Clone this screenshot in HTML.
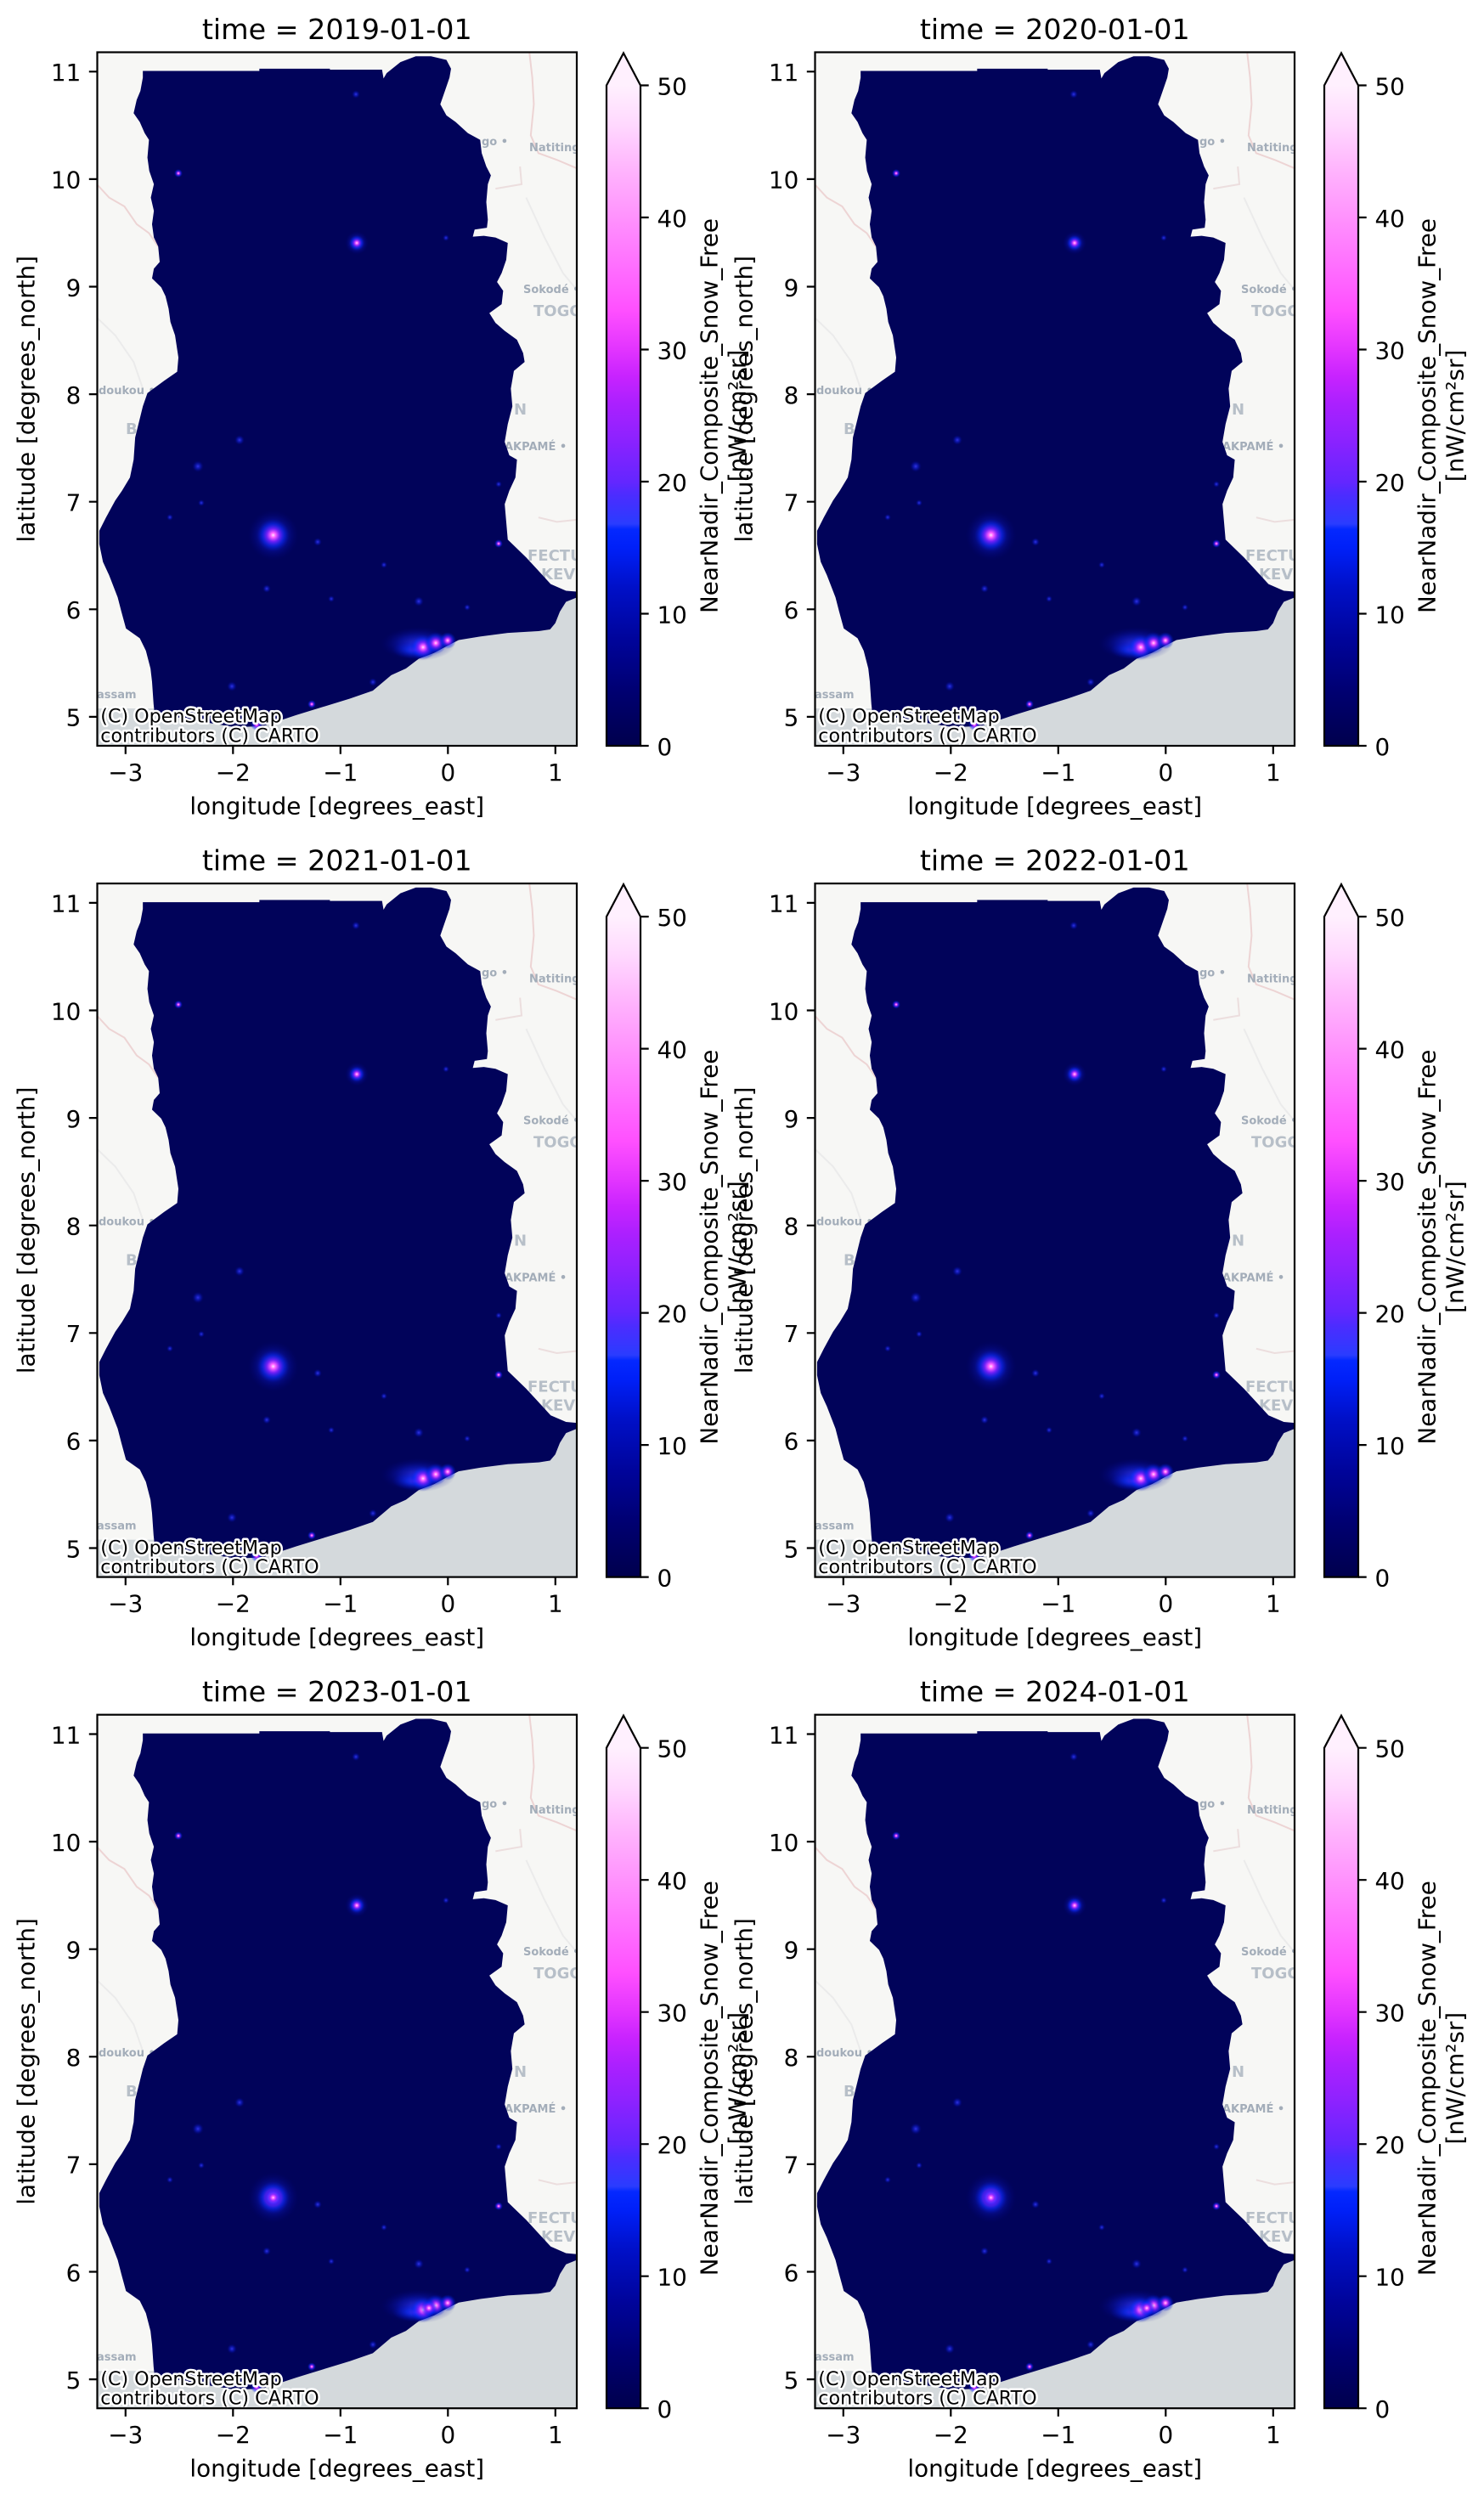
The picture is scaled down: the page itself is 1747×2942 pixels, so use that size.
<!DOCTYPE html>
<html><head><meta charset="utf-8">
<style>
html,body{margin:0;padding:0;background:#fff;width:1747px;height:2942px;overflow:hidden}
svg{position:absolute;left:0;top:0}
text{font-family:"DejaVu Sans","Liberation Sans",sans-serif;fill:#000}
.t{font-size:27.8px}
.yl{text-anchor:end}
.xl{text-anchor:middle}
.ti{font-size:33.3px;text-anchor:middle}
.at{font-size:22.2px;stroke:#fff;stroke-width:5px;paint-order:stroke;stroke-linejoin:round}
.ml{font-size:13px;font-weight:bold;fill:#a3adb9}
.m2{font-size:18px;font-weight:bold;fill:#b7bfc8}
</style></head><body>
<svg width="1747" height="2942" viewBox="0 0 1747 2942" xmlns="http://www.w3.org/2000/svg">
<defs>
<linearGradient id="cmap" x1="0" y1="1" x2="0" y2="0">
<stop offset="0" stop-color="#00004d"/>
<stop offset="0.08" stop-color="#000070"/>
<stop offset="0.16" stop-color="#00049a"/>
<stop offset="0.24" stop-color="#0010c8"/>
<stop offset="0.30" stop-color="#0020f8"/>
<stop offset="0.328" stop-color="#0428ff"/>
<stop offset="0.336" stop-color="#2a3cff"/>
<stop offset="0.38" stop-color="#4c2cff"/>
<stop offset="0.40" stop-color="#6426ff"/>
<stop offset="0.46" stop-color="#8a22ff"/>
<stop offset="0.52" stop-color="#ac20ff"/>
<stop offset="0.56" stop-color="#c823ff"/>
<stop offset="0.60" stop-color="#e234ff"/>
<stop offset="0.66" stop-color="#ff50ff"/>
<stop offset="0.72" stop-color="#ff6cff"/>
<stop offset="0.80" stop-color="#ff92fd"/>
<stop offset="0.88" stop-color="#ffb8fd"/>
<stop offset="0.94" stop-color="#ffd8fe"/>
<stop offset="1" stop-color="#fff0fe"/>
</linearGradient>
<radialGradient id="gp">
<stop offset="0" stop-color="#ffe0ff"/>
<stop offset="0.15" stop-color="#ff60ff"/>
<stop offset="0.4" stop-color="#8020ff" stop-opacity="0.85"/>
<stop offset="0.7" stop-color="#0a2aff" stop-opacity="0.45"/>
<stop offset="1" stop-color="#0010c0" stop-opacity="0"/>
</radialGradient>
<radialGradient id="gb">
<stop offset="0" stop-color="#5030ff" stop-opacity="0.9"/>
<stop offset="0.4" stop-color="#1030ff" stop-opacity="0.6"/>
<stop offset="1" stop-color="#0010c0" stop-opacity="0"/>
</radialGradient>
<radialGradient id="gs">
<stop offset="0" stop-color="#3a3cff" stop-opacity="0.85"/>
<stop offset="0.5" stop-color="#1020e0" stop-opacity="0.45"/>
<stop offset="1" stop-color="#000080" stop-opacity="0"/>
</radialGradient>
<clipPath id="ax"><rect x="114.5" y="61.5" width="564.5" height="816.5"/></clipPath>

<g id="land">
<rect x="114" y="60" width="566" height="820" fill="#f7f7f5"/>
<g transform="translate(114,60) scale(0.36101,0.52301)" fill="none" stroke="#edd4d4" stroke-width="2">
<polyline vector-effect="non-scaling-stroke" points="0,300 40,330 90,350 130,390 170,410 200,440"/>
<polyline vector-effect="non-scaling-stroke" points="1410,0 1420,60 1425,120 1415,190 1440,230 1500,245 1568,265"/>
<polyline vector-effect="non-scaling-stroke" stroke="#ecdede" points="1380,260 1385,300 1300,310"/>
<polyline vector-effect="non-scaling-stroke" stroke="#ecdede" points="1440,1050 1500,1060 1568,1055"/>
<polyline vector-effect="non-scaling-stroke" stroke="#ebebeb" points="0,600 60,640 120,700 150,760"/>
<polyline vector-effect="non-scaling-stroke" stroke="#ebebeb" points="1400,330 1460,420 1520,500 1568,540"/>
</g>
</g>

<g id="gh">
<g transform="translate(114,60) scale(0.36101,0.52301)">
<polygon fill="#d4d9dc" points="1600,1210 1568,1222 1530,1240 1510,1262 1495,1288 1478,1302 1440,1306 1340,1310 1250,1318 1180,1326 1140,1340 1100,1355 1050,1368 1008,1390 960,1405 900,1440 825,1458 730,1478 650,1495 593,1508 540,1520 450,1522 300,1505 188,1480 0,1480 0,1600 1600,1600"/>
<polygon fill="#01035a" points="150,45 530,45 530,40 760,40 760,42 930,42 935,62 945,50 990,25 1040,12 1090,12 1140,20 1155,40 1150,60 1135,90 1120,120 1140,145 1170,160 1210,185 1250,200 1255,230 1270,260 1285,280 1275,300 1270,340 1275,380 1272,398 1232,402 1226,418 1262,416 1300,420 1340,432 1335,470 1320,500 1305,520 1325,540 1320,570 1280,590 1300,612 1330,630 1370,650 1390,680 1395,700 1360,720 1350,760 1355,800 1340,840 1330,880 1345,910 1370,920 1365,960 1345,990 1330,1020 1335,1060 1340,1100 1370,1120 1400,1140 1440,1170 1480,1200 1530,1215 1580,1218 1580,1226 1530,1240 1510,1262 1495,1288 1478,1302 1440,1306 1340,1310 1250,1318 1180,1326 1140,1340 1100,1355 1050,1368 1008,1390 960,1405 900,1440 825,1458 730,1478 650,1495 593,1508 540,1520 450,1522 300,1505 188,1490 185,1470 180,1420 175,1390 160,1350 140,1322 95,1300 80,1262 68,1230 40,1180 20,1150 8,1110 8,1080 30,1050 60,1012 82,990 108,960 120,920 125,870 150,800 165,770 220,742 262,722 266,690 255,640 240,610 234,580 224,552 210,532 180,512 186,490 205,475 200,440 186,420 180,390 186,360 176,330 186,300 171,270 165,240 170,200 156,185 140,160 120,140 130,110 142,90 150,60"/>
</g>
</g>

<g id="lt">
<ellipse cx="492" cy="758" rx="44" ry="20" fill="url(#gs)"/>
<ellipse cx="490" cy="765" rx="28" ry="11" fill="url(#gb)"/>
<circle cx="498" cy="762" r="15" fill="url(#gp)"/>
<circle cx="513" cy="757" r="13" fill="url(#gp)"/>
<circle cx="527" cy="754" r="10" fill="url(#gp)"/>
<circle cx="321.6" cy="630" r="30" fill="url(#gs)"/>
<circle cx="321.6" cy="630" r="19" fill="url(#gp)"/>
<circle cx="420" cy="286" r="14" fill="url(#gs)"/>
<circle cx="420" cy="286" r="9" fill="url(#gp)"/>
<circle cx="210" cy="204" r="5" fill="url(#gp)"/>
<circle cx="419" cy="111" r="5" fill="url(#gs)"/>
<circle cx="233" cy="549" r="7" fill="url(#gs)"/>
<circle cx="282" cy="518" r="6" fill="url(#gs)"/>
<circle cx="493" cy="708" r="6" fill="url(#gs)"/>
<circle cx="587" cy="640" r="5" fill="url(#gp)"/>
<circle cx="302" cy="853" r="7" fill="url(#gp)"/>
<circle cx="367" cy="829" r="5" fill="url(#gp)"/>
<circle cx="439" cy="803" r="5" fill="url(#gs)"/>
<circle cx="314" cy="693" r="5" fill="url(#gs)"/>
<circle cx="273" cy="808" r="6" fill="url(#gs)"/>
<circle cx="374" cy="638" r="5" fill="url(#gs)"/>
<circle cx="525" cy="280" r="4" fill="url(#gs)"/>
<circle cx="587" cy="570" r="4" fill="url(#gs)"/>
<circle cx="200" cy="609" r="4" fill="url(#gs)"/>
<circle cx="237" cy="592" r="4" fill="url(#gs)"/>
<circle cx="452" cy="665" r="4" fill="url(#gs)"/>
<circle cx="390" cy="705" r="4" fill="url(#gs)"/>
<circle cx="550" cy="715" r="4" fill="url(#gs)"/>
</g>

<g id="fr" stroke="#000" stroke-width="2.2" fill="none">
<rect x="114.5" y="61.5" width="564.5" height="816.5"/>
<path d="M114.5,84.3h-9.7M114.5,210.9h-9.7M114.5,337.5h-9.7M114.5,464.1h-9.7M114.5,590.7h-9.7M114.5,717.3h-9.7M114.5,843.9h-9.7M147.8,878v9.7M274.3,878v9.7M400.8,878v9.7M527.3,878v9.7M653.8,878v9.7"/>
</g>

<g id="cb">
<rect x="714" y="100.5" width="40" height="777.5" fill="url(#cmap)"/>
<polygon points="714,100.8 734,62.5 754,100.8" fill="#fff0fe"/>
<path d="M714,878 L714,100.5 L734,62.5 L754,100.5 L754,878 Z" fill="none" stroke="#000" stroke-width="2.2"/>
<path d="M754,878h9.7M754,722.5h9.7M754,567h9.7M754,411.5h9.7M754,256h9.7M754,100.5h9.7" stroke="#000" stroke-width="2.2"/>
</g>
</defs>

<!-- Panel 1 -->
<g transform="translate(0,0)">
<g clip-path="url(#ax)">
<use href="#land"/>
<text class="ml" x="567" y="171">go •</text><text class="ml" x="623" y="178">Natiting</text><text class="ml" x="616" y="345">Sokodé •</text><text class="m2" x="628" y="372">TOGO</text><text class="ml" x="116" y="464">doukou •</text><text class="m2" x="148" y="511">B</text><text class="m2" x="605" y="488">N</text><text class="ml" x="594" y="530">AKPAMÉ •</text><text class="m2" x="621" y="660">FECTU</text><text class="m2" x="637" y="682">KEVE</text><text class="ml" x="533" y="765">ema</text><text class="ml" x="114" y="822">assam</text>
<use href="#gh"/>
<use href="#lt"/>
<text class="at" x="118.3" y="850.7">(C) OpenStreetMap</text>
<text class="at" x="118.3" y="873.3">contributors (C) CARTO</text>
</g>
<use href="#fr"/>
<text class="t yl" x="95.3" y="95.1">11</text><text class="t yl" x="95.3" y="221.7">10</text><text class="t yl" x="95.3" y="348.3">9</text><text class="t yl" x="95.3" y="474.9">8</text><text class="t yl" x="95.3" y="601.5">7</text><text class="t yl" x="95.3" y="728.1">6</text><text class="t yl" x="95.3" y="854.7">5</text>
<text class="t xl" x="147.8" y="919">−3</text><text class="t xl" x="274.3" y="919">−2</text><text class="t xl" x="400.8" y="919">−1</text><text class="t xl" x="527.3" y="919">0</text><text class="t xl" x="653.8" y="919">1</text>
<text class="ti" x="396.75" y="46">time = 2019-01-01</text>
<text class="t xl" x="396.75" y="958.3">longitude [degrees_east]</text>
<text class="t xl" transform="translate(40.5,469.75) rotate(-90)">latitude [degrees_north]</text>
<use href="#cb"/>
<text class="t" x="773.5" y="888.8">0</text><text class="t" x="773.5" y="733.3">10</text><text class="t" x="773.5" y="577.8">20</text><text class="t" x="773.5" y="422.3">30</text><text class="t" x="773.5" y="266.8">40</text><text class="t" x="773.5" y="111.3">50</text>
<text class="t xl" transform="translate(844.3,489.5) rotate(-90)">NearNadir_Composite_Snow_Free</text>
<text class="t xl" transform="translate(877.7,489.5) rotate(-90)">[nW/cm²sr]</text>
</g>

<!-- Panel 2 -->
<g transform="translate(845,0)">
<g clip-path="url(#ax)">
<use href="#land"/>
<text class="ml" x="567" y="171">go •</text><text class="ml" x="623" y="178">Natiting</text><text class="ml" x="616" y="345">Sokodé •</text><text class="m2" x="628" y="372">TOGO</text><text class="ml" x="116" y="464">doukou •</text><text class="m2" x="148" y="511">B</text><text class="m2" x="605" y="488">N</text><text class="ml" x="594" y="530">AKPAMÉ •</text><text class="m2" x="621" y="660">FECTU</text><text class="m2" x="637" y="682">KEVE</text><text class="ml" x="533" y="765">ema</text><text class="ml" x="114" y="822">assam</text>
<use href="#gh"/>
<use href="#lt"/>
<text class="at" x="118.3" y="850.7">(C) OpenStreetMap</text>
<text class="at" x="118.3" y="873.3">contributors (C) CARTO</text>
</g>
<use href="#fr"/>
<text class="t yl" x="95.3" y="95.1">11</text><text class="t yl" x="95.3" y="221.7">10</text><text class="t yl" x="95.3" y="348.3">9</text><text class="t yl" x="95.3" y="474.9">8</text><text class="t yl" x="95.3" y="601.5">7</text><text class="t yl" x="95.3" y="728.1">6</text><text class="t yl" x="95.3" y="854.7">5</text>
<text class="t xl" x="147.8" y="919">−3</text><text class="t xl" x="274.3" y="919">−2</text><text class="t xl" x="400.8" y="919">−1</text><text class="t xl" x="527.3" y="919">0</text><text class="t xl" x="653.8" y="919">1</text>
<text class="ti" x="396.75" y="46">time = 2020-01-01</text>
<text class="t xl" x="396.75" y="958.3">longitude [degrees_east]</text>
<text class="t xl" transform="translate(40.5,469.75) rotate(-90)">latitude [degrees_north]</text>
<use href="#cb"/>
<text class="t" x="773.5" y="888.8">0</text><text class="t" x="773.5" y="733.3">10</text><text class="t" x="773.5" y="577.8">20</text><text class="t" x="773.5" y="422.3">30</text><text class="t" x="773.5" y="266.8">40</text><text class="t" x="773.5" y="111.3">50</text>
<text class="t xl" transform="translate(844.3,489.5) rotate(-90)">NearNadir_Composite_Snow_Free</text>
<text class="t xl" transform="translate(877.7,489.5) rotate(-90)">[nW/cm²sr]</text>
</g>

<!-- Panel 3 -->
<g transform="translate(0,978.6)">
<g clip-path="url(#ax)">
<use href="#land"/>
<text class="ml" x="567" y="171">go •</text><text class="ml" x="623" y="178">Natiting</text><text class="ml" x="616" y="345">Sokodé •</text><text class="m2" x="628" y="372">TOGO</text><text class="ml" x="116" y="464">doukou •</text><text class="m2" x="148" y="511">B</text><text class="m2" x="605" y="488">N</text><text class="ml" x="594" y="530">AKPAMÉ •</text><text class="m2" x="621" y="660">FECTU</text><text class="m2" x="637" y="682">KEVE</text><text class="ml" x="533" y="765">ema</text><text class="ml" x="114" y="822">assam</text>
<use href="#gh"/>
<use href="#lt"/>
<text class="at" x="118.3" y="850.7">(C) OpenStreetMap</text>
<text class="at" x="118.3" y="873.3">contributors (C) CARTO</text>
</g>
<use href="#fr"/>
<text class="t yl" x="95.3" y="95.1">11</text><text class="t yl" x="95.3" y="221.7">10</text><text class="t yl" x="95.3" y="348.3">9</text><text class="t yl" x="95.3" y="474.9">8</text><text class="t yl" x="95.3" y="601.5">7</text><text class="t yl" x="95.3" y="728.1">6</text><text class="t yl" x="95.3" y="854.7">5</text>
<text class="t xl" x="147.8" y="919">−3</text><text class="t xl" x="274.3" y="919">−2</text><text class="t xl" x="400.8" y="919">−1</text><text class="t xl" x="527.3" y="919">0</text><text class="t xl" x="653.8" y="919">1</text>
<text class="ti" x="396.75" y="46">time = 2021-01-01</text>
<text class="t xl" x="396.75" y="958.3">longitude [degrees_east]</text>
<text class="t xl" transform="translate(40.5,469.75) rotate(-90)">latitude [degrees_north]</text>
<use href="#cb"/>
<text class="t" x="773.5" y="888.8">0</text><text class="t" x="773.5" y="733.3">10</text><text class="t" x="773.5" y="577.8">20</text><text class="t" x="773.5" y="422.3">30</text><text class="t" x="773.5" y="266.8">40</text><text class="t" x="773.5" y="111.3">50</text>
<text class="t xl" transform="translate(844.3,489.5) rotate(-90)">NearNadir_Composite_Snow_Free</text>
<text class="t xl" transform="translate(877.7,489.5) rotate(-90)">[nW/cm²sr]</text>
</g>

<!-- Panel 4 -->
<g transform="translate(845,978.6)">
<g clip-path="url(#ax)">
<use href="#land"/>
<text class="ml" x="567" y="171">go •</text><text class="ml" x="623" y="178">Natiting</text><text class="ml" x="616" y="345">Sokodé •</text><text class="m2" x="628" y="372">TOGO</text><text class="ml" x="116" y="464">doukou •</text><text class="m2" x="148" y="511">B</text><text class="m2" x="605" y="488">N</text><text class="ml" x="594" y="530">AKPAMÉ •</text><text class="m2" x="621" y="660">FECTU</text><text class="m2" x="637" y="682">KEVE</text><text class="ml" x="533" y="765">ema</text><text class="ml" x="114" y="822">assam</text>
<use href="#gh"/>
<use href="#lt"/>
<text class="at" x="118.3" y="850.7">(C) OpenStreetMap</text>
<text class="at" x="118.3" y="873.3">contributors (C) CARTO</text>
</g>
<use href="#fr"/>
<text class="t yl" x="95.3" y="95.1">11</text><text class="t yl" x="95.3" y="221.7">10</text><text class="t yl" x="95.3" y="348.3">9</text><text class="t yl" x="95.3" y="474.9">8</text><text class="t yl" x="95.3" y="601.5">7</text><text class="t yl" x="95.3" y="728.1">6</text><text class="t yl" x="95.3" y="854.7">5</text>
<text class="t xl" x="147.8" y="919">−3</text><text class="t xl" x="274.3" y="919">−2</text><text class="t xl" x="400.8" y="919">−1</text><text class="t xl" x="527.3" y="919">0</text><text class="t xl" x="653.8" y="919">1</text>
<text class="ti" x="396.75" y="46">time = 2022-01-01</text>
<text class="t xl" x="396.75" y="958.3">longitude [degrees_east]</text>
<text class="t xl" transform="translate(40.5,469.75) rotate(-90)">latitude [degrees_north]</text>
<use href="#cb"/>
<text class="t" x="773.5" y="888.8">0</text><text class="t" x="773.5" y="733.3">10</text><text class="t" x="773.5" y="577.8">20</text><text class="t" x="773.5" y="422.3">30</text><text class="t" x="773.5" y="266.8">40</text><text class="t" x="773.5" y="111.3">50</text>
<text class="t xl" transform="translate(844.3,489.5) rotate(-90)">NearNadir_Composite_Snow_Free</text>
<text class="t xl" transform="translate(877.7,489.5) rotate(-90)">[nW/cm²sr]</text>
</g>

<!-- Panel 5 -->
<g transform="translate(0,1957.2)">
<g clip-path="url(#ax)">
<use href="#land"/>
<text class="ml" x="567" y="171">go •</text><text class="ml" x="623" y="178">Natiting</text><text class="ml" x="616" y="345">Sokodé •</text><text class="m2" x="628" y="372">TOGO</text><text class="ml" x="116" y="464">doukou •</text><text class="m2" x="148" y="511">B</text><text class="m2" x="605" y="488">N</text><text class="ml" x="594" y="530">AKPAMÉ •</text><text class="m2" x="621" y="660">FECTU</text><text class="m2" x="637" y="682">KEVE</text><text class="ml" x="533" y="765">ema</text><text class="ml" x="114" y="822">assam</text>
<use href="#gh"/>
<use href="#lt"/>
<circle cx="321.6" cy="630" r="10" fill="url(#gp)"/>
<circle cx="505" cy="760" r="10" fill="url(#gp)"/>
<text class="at" x="118.3" y="850.7">(C) OpenStreetMap</text>
<text class="at" x="118.3" y="873.3">contributors (C) CARTO</text>
</g>
<use href="#fr"/>
<text class="t yl" x="95.3" y="95.1">11</text><text class="t yl" x="95.3" y="221.7">10</text><text class="t yl" x="95.3" y="348.3">9</text><text class="t yl" x="95.3" y="474.9">8</text><text class="t yl" x="95.3" y="601.5">7</text><text class="t yl" x="95.3" y="728.1">6</text><text class="t yl" x="95.3" y="854.7">5</text>
<text class="t xl" x="147.8" y="919">−3</text><text class="t xl" x="274.3" y="919">−2</text><text class="t xl" x="400.8" y="919">−1</text><text class="t xl" x="527.3" y="919">0</text><text class="t xl" x="653.8" y="919">1</text>
<text class="ti" x="396.75" y="46">time = 2023-01-01</text>
<text class="t xl" x="396.75" y="958.3">longitude [degrees_east]</text>
<text class="t xl" transform="translate(40.5,469.75) rotate(-90)">latitude [degrees_north]</text>
<use href="#cb"/>
<text class="t" x="773.5" y="888.8">0</text><text class="t" x="773.5" y="733.3">10</text><text class="t" x="773.5" y="577.8">20</text><text class="t" x="773.5" y="422.3">30</text><text class="t" x="773.5" y="266.8">40</text><text class="t" x="773.5" y="111.3">50</text>
<text class="t xl" transform="translate(844.3,489.5) rotate(-90)">NearNadir_Composite_Snow_Free</text>
<text class="t xl" transform="translate(877.7,489.5) rotate(-90)">[nW/cm²sr]</text>
</g>

<!-- Panel 6 -->
<g transform="translate(845,1957.2)">
<g clip-path="url(#ax)">
<use href="#land"/>
<text class="ml" x="567" y="171">go •</text><text class="ml" x="623" y="178">Natiting</text><text class="ml" x="616" y="345">Sokodé •</text><text class="m2" x="628" y="372">TOGO</text><text class="ml" x="116" y="464">doukou •</text><text class="m2" x="148" y="511">B</text><text class="m2" x="605" y="488">N</text><text class="ml" x="594" y="530">AKPAMÉ •</text><text class="m2" x="621" y="660">FECTU</text><text class="m2" x="637" y="682">KEVE</text><text class="ml" x="533" y="765">ema</text><text class="ml" x="114" y="822">assam</text>
<use href="#gh"/>
<use href="#lt"/>
<circle cx="321.6" cy="630" r="10" fill="url(#gp)"/>
<circle cx="505" cy="760" r="10" fill="url(#gp)"/>
<text class="at" x="118.3" y="850.7">(C) OpenStreetMap</text>
<text class="at" x="118.3" y="873.3">contributors (C) CARTO</text>
</g>
<use href="#fr"/>
<text class="t yl" x="95.3" y="95.1">11</text><text class="t yl" x="95.3" y="221.7">10</text><text class="t yl" x="95.3" y="348.3">9</text><text class="t yl" x="95.3" y="474.9">8</text><text class="t yl" x="95.3" y="601.5">7</text><text class="t yl" x="95.3" y="728.1">6</text><text class="t yl" x="95.3" y="854.7">5</text>
<text class="t xl" x="147.8" y="919">−3</text><text class="t xl" x="274.3" y="919">−2</text><text class="t xl" x="400.8" y="919">−1</text><text class="t xl" x="527.3" y="919">0</text><text class="t xl" x="653.8" y="919">1</text>
<text class="ti" x="396.75" y="46">time = 2024-01-01</text>
<text class="t xl" x="396.75" y="958.3">longitude [degrees_east]</text>
<text class="t xl" transform="translate(40.5,469.75) rotate(-90)">latitude [degrees_north]</text>
<use href="#cb"/>
<text class="t" x="773.5" y="888.8">0</text><text class="t" x="773.5" y="733.3">10</text><text class="t" x="773.5" y="577.8">20</text><text class="t" x="773.5" y="422.3">30</text><text class="t" x="773.5" y="266.8">40</text><text class="t" x="773.5" y="111.3">50</text>
<text class="t xl" transform="translate(844.3,489.5) rotate(-90)">NearNadir_Composite_Snow_Free</text>
<text class="t xl" transform="translate(877.7,489.5) rotate(-90)">[nW/cm²sr]</text>
</g>
</svg>
</body></html>
